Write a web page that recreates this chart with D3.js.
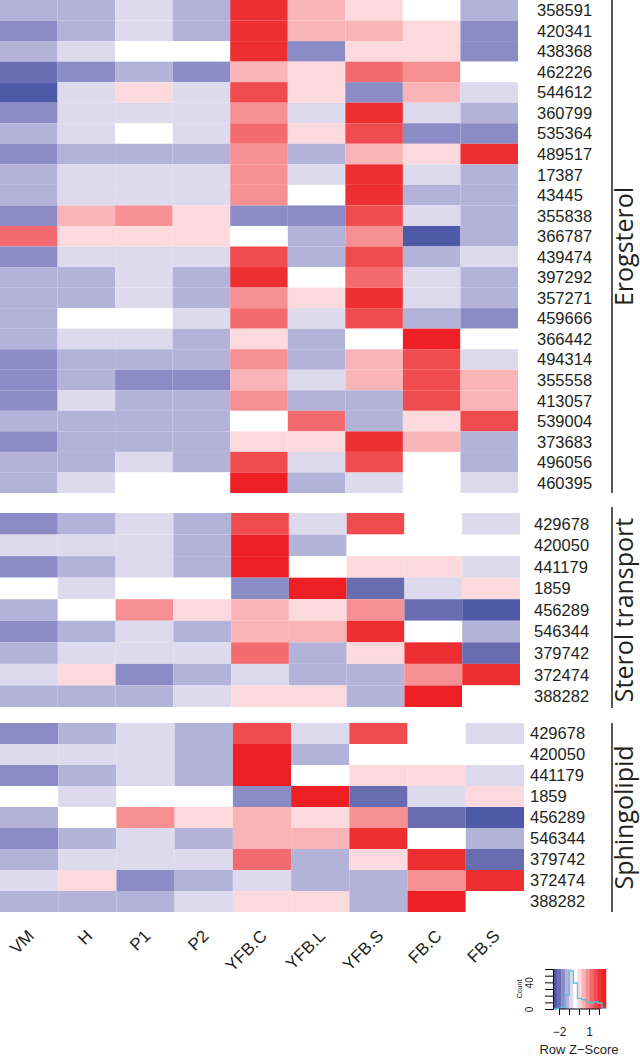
<!DOCTYPE html>
<html>
<head>
<meta charset="utf-8">
<script src="https://cdnjs.cloudflare.com/ajax/libs/d3/7.8.5/d3.min.js"></script>
<style>
body { margin: 0; background: #fff; }
svg { display: block; }
.rowlab, .collab text, .keytxt, .key text { font-family: Arial, "Liberation Sans", Helvetica, sans-serif; fill: #231f20; }
.grouplab { font-family: "Open Sans", sans-serif; fill: #231f20; }
</style>
</head>
<body>
<script>

var width = 640,
    height = 1057;

var columns = ["VM", "H", "P1", "P2", "YFB.C", "YFB.L", "YFB.S", "FB.C", "FB.S"];

// row z-scores (one row per gene, columns as above)
var ergosterolGenes = ["358591", "420341", "438368", "462226", "544612", "360799", "535364", "489517",
  "17387", "43445", "355838", "366787", "439474", "397292", "357271", "459666",
  "366442", "494314", "355558", "413057", "539004", "373683", "496056", "460395"];
var ergosterolZ = [
  [-1.2, -1.2, -0.8, -1.2, 2.1, 0.5, 0.0, -0.4, -1.2],
  [-1.6, -1.2, -0.8, -1.2, 2.1, 0.5, 0.5, 0.0, -1.6],
  [-1.2, -0.8, -0.4, -0.4, 2.1, -1.6, 0.0, 0.0, -1.6],
  [-2.0, -1.6, -1.2, -1.6, 0.5, 0.0, 1.3, 0.9, -0.4],
  [-2.4, -0.8, 0.0, -0.8, 1.7, 0.0, -1.6, 0.5, -0.8],
  [-1.6, -0.8, -0.8, -0.8, 0.9, -0.8, 2.1, -0.8, -1.2],
  [-1.2, -0.8, -0.4, -0.8, 1.3, 0.0, 1.7, -1.6, -1.6],
  [-1.6, -1.2, -1.2, -1.2, 0.9, -1.2, 0.5, 0.0, 2.1],
  [-1.2, -0.8, -0.8, -0.8, 0.9, -0.8, 2.1, -0.8, -1.2],
  [-1.2, -0.8, -0.8, -0.8, 0.9, -0.4, 2.1, -1.2, -1.2],
  [-1.6, 0.5, 0.9, 0.0, -1.6, -1.6, 1.7, -0.8, -1.2],
  [1.3, 0.0, 0.0, 0.0, -0.4, -1.2, 0.9, -2.4, -1.2],
  [-1.6, -0.8, -0.8, -0.8, 1.7, -1.2, 1.7, -1.2, -0.8],
  [-1.2, -1.2, -0.8, -1.2, 2.1, -0.4, 1.3, -0.8, -1.2],
  [-1.2, -1.2, -0.8, -1.2, 0.9, 0.0, 2.1, -0.8, -1.2],
  [-1.2, -0.4, -0.4, -0.8, 1.3, -0.8, 1.7, -1.2, -1.6],
  [-1.2, -0.8, -0.8, -1.2, 0.0, -1.2, -0.4, 2.5, -0.4],
  [-1.6, -1.2, -1.2, -1.2, 0.9, -1.2, 0.5, 1.7, -0.8],
  [-1.6, -1.2, -1.6, -1.6, 0.5, -0.8, 0.5, 1.7, 0.5],
  [-1.6, -0.8, -1.2, -1.2, 0.9, -1.2, -1.2, 1.7, 0.5],
  [-1.2, -1.2, -1.2, -1.2, -0.4, 1.3, -1.2, 0.0, 1.7],
  [-1.6, -1.2, -1.2, -1.2, 0.0, 0.0, 2.1, 0.5, -1.2],
  [-1.2, -1.2, -0.8, -1.2, 1.7, -0.8, 1.7, -0.4, -1.2],
  [-1.2, -0.8, -0.4, -0.4, 2.5, -1.2, -0.8, -0.4, -0.8]
];

var sterolGenes = ["429678", "420050", "441179", "1859", "456289", "546344", "379742", "372474", "388282"];
var sterolZ = [
  [-1.6, -1.2, -0.8, -1.2, 1.7, -0.8, 1.7, -0.4, -0.8],
  [-0.8, -0.8, -0.8, -1.2, 2.5, -1.2, -0.4, -0.4, -0.4],
  [-1.6, -1.2, -0.8, -1.2, 2.5, -0.4, 0.0, 0.0, -0.8],
  [-0.4, -0.8, -0.4, -0.4, -1.6, 2.5, -2.0, -0.8, 0.0],
  [-1.2, -0.4, 0.9, 0.0, 0.5, 0.0, 0.9, -2.0, -2.4],
  [-1.6, -1.2, -0.8, -1.2, 0.5, 0.5, 2.1, -0.4, -1.2],
  [-1.2, -0.8, -0.8, -0.8, 1.3, -1.2, 0.0, 2.1, -2.0],
  [-0.8, 0.0, -1.6, -1.2, -0.8, -1.2, -1.2, 0.9, 2.1],
  [-1.2, -1.2, -1.2, -0.8, 0.0, 0.0, -1.2, 2.5, -0.4]
];

var sphingoGenes = ["429678", "420050", "441179", "1859", "456289", "546344", "379742", "372474", "388282"];
var sphingoZ = [
  [-1.6, -1.2, -0.8, -1.2, 1.7, -0.8, 1.7, -0.4, -0.8],
  [-0.8, -0.8, -0.8, -1.2, 2.5, -1.2, -0.4, -0.4, -0.4],
  [-1.6, -1.2, -0.8, -1.2, 2.5, -0.4, 0.0, 0.0, -0.8],
  [-0.4, -0.8, -0.4, -0.4, -1.6, 2.5, -2.0, -0.8, 0.0],
  [-1.2, -0.4, 0.9, 0.0, 0.5, 0.0, 0.9, -2.0, -2.4],
  [-1.6, -1.2, -0.8, -1.2, 0.5, 0.5, 2.1, -0.4, -1.2],
  [-1.2, -0.8, -0.8, -0.8, 1.3, -1.2, 0.0, 2.1, -2.0],
  [-0.8, 0.0, -1.6, -1.2, -0.8, -1.2, -1.2, 0.9, 2.1],
  [-1.2, -1.2, -1.2, -0.8, 0.0, 0.0, -1.2, 2.5, -0.4]
];

// colour key
var zRange = [-2.6, 2.7];
var palette = ["#4e5aa8", "#6a6cb2", "#8b8cc5", "#b3b3da", "#dcdaec", "#ffffff",
  "#fcd9dd", "#f9b4b8", "#f69093", "#f36a6f", "#f04b4e", "#ee2f32", "#ee2026"];
var histCounts = [0, 1, 3, 21, 57, 39, 16, 14, 11, 9, 11, 9, 1];
var countTicks = [0, 10, 20, 30, 40, 50, 60];
var zTicks = [-2, -1, 0, 1, 2];

var color = d3.scaleQuantize().domain(zRange).range(palette);

var svg = d3.select("body").append("svg")
    .attr("width", width)
    .attr("height", height);

var panels = [
  {name: "Erogsterol", genes: ergosterolGenes, z: ergosterolZ, top: 0, bottom: 493, right: 518, labelX: 537, lineTop: 0, lineBottom: 493},
  {name: "Sterol transport", genes: sterolGenes, z: sterolZ, top: 513, bottom: 707, right: 520, labelX: 534, lineTop: 507, lineBottom: 708},
  {name: "Sphingolipid", genes: sphingoGenes, z: sphingoZ, top: 723, bottom: 912, right: 524, labelX: 530, lineTop: 723, lineBottom: 912}
];

var lastX;

panels.forEach(function(p) {
  var x = d3.scaleBand().domain(columns).range([0, p.right]);
  var y = d3.scaleBand().domain(p.genes).range([p.top, p.bottom]);
  lastX = x;

  var cells = [];
  p.z.forEach(function(row, i) {
    row.forEach(function(v, j) {
      cells.push({gene: p.genes[i], col: columns[j], z: v});
    });
  });

  var g = svg.append("g").attr("class", "panel");

  g.selectAll("rect").data(cells)
    .enter().append("rect")
      .attr("x", d => x(d.col))
      .attr("y", d => y(d.gene))
      .attr("width", x.bandwidth())
      .attr("height", y.bandwidth())
      .attr("fill", d => color(d.z));

  g.selectAll("text.rowlab").data(p.genes)
    .enter().append("text")
      .attr("class", "rowlab")
      .attr("x", p.labelX)
      .attr("y", d => y(d) + y.bandwidth() / 2)
      .attr("dy", "0.36em")
      .style("font-size", "16.5px")
      .text(d => d);

  g.append("line")
      .attr("x1", 612).attr("x2", 612)
      .attr("y1", p.lineTop).attr("y2", p.lineBottom)
      .attr("stroke", "#231f20")
      .attr("stroke-width", 1.5);

  g.append("text")
      .attr("class", "grouplab")
      .attr("transform", "translate(633," + ((p.top + p.bottom) / 2) + ") rotate(-90)")
      .attr("text-anchor", "middle")
      .style("font-size", "25px")
      .text(p.name);
});

// column labels
var colAxis = svg.append("g")
    .attr("class", "collab")
    .attr("transform", "translate(0,937)")
    .call(d3.axisBottom(lastX).tickSize(0));
colAxis.select(".domain").remove();
colAxis.selectAll(".tick text")
    .attr("x", 0).attr("y", 0).attr("dy", 0)
    .attr("text-anchor", "end")
    .attr("transform", "translate(6,0) rotate(-45)")
    .style("font-size", "17px");

// key
var keyX = d3.scaleLinear().domain(zRange).range([553, 606]);
var keyY = d3.scaleLinear().domain([0, 60]).range([1009, 969]);
var edges = [zRange[0]].concat(color.thresholds(), [zRange[1]]);

var key = svg.append("g").attr("class", "key");

key.selectAll("rect").data(palette)
  .enter().append("rect")
    .attr("x", (d, i) => keyX(edges[i]))
    .attr("y", keyY(60))
    .attr("width", (d, i) => keyX(edges[i + 1]) - keyX(edges[i]) + 0.3)
    .attr("height", keyY(0) - keyY(60))
    .attr("fill", d => d);

var histPts = histCounts.map((c, i) => [edges[i], c]);
histPts.push([edges[edges.length - 1], histCounts[histCounts.length - 1]]);

key.append("path")
    .datum(histPts)
    .attr("fill", "none")
    .attr("stroke", "#55c3e3")
    .attr("stroke-width", 1.3)
    .attr("d", d3.line().curve(d3.curveStepAfter).x(d => keyX(d[0])).y(d => keyY(d[1])));

var yAx = key.append("g")
    .attr("transform", "translate(553,0)")
    .call(d3.axisLeft(keyY).tickValues(countTicks).tickSize(8).tickSizeOuter(0)
      .tickFormat(d => (d === 0 || d === 40) ? d : ""));
yAx.selectAll(".tick text")
    .attr("x", 0).attr("dy", 0)
    .attr("text-anchor", "middle")
    .attr("transform", "translate(-20,0) rotate(-90)")
    .style("font-size", "10px");

var xAx = key.append("g")
    .attr("transform", "translate(0,1009)")
    .call(d3.axisBottom(keyX).tickValues(zTicks).tickSize(6).tickPadding(12)
      .tickFormat(d => d === -2 ? "\u22122" : d === 1 ? "1" : ""));
xAx.select(".domain").remove();
xAx.selectAll(".tick text").style("font-size", "12px");
xAx.append("line")
    .attr("x1", keyX(zTicks[0])).attr("x2", keyX(zTicks[zTicks.length - 1]))
    .attr("stroke", "currentColor");

key.append("text")
    .attr("class", "keytxt")
    .attr("transform", "translate(522,989) rotate(-90)")
    .attr("text-anchor", "middle")
    .style("font-size", "7px")
    .text("Count");

key.append("text")
    .attr("class", "keytxt")
    .attr("x", 579)
    .attr("y", 1054)
    .attr("text-anchor", "middle")
    .style("font-size", "13px")
    .text("Row Z\u2212Score");

</script>
</body>
</html>
